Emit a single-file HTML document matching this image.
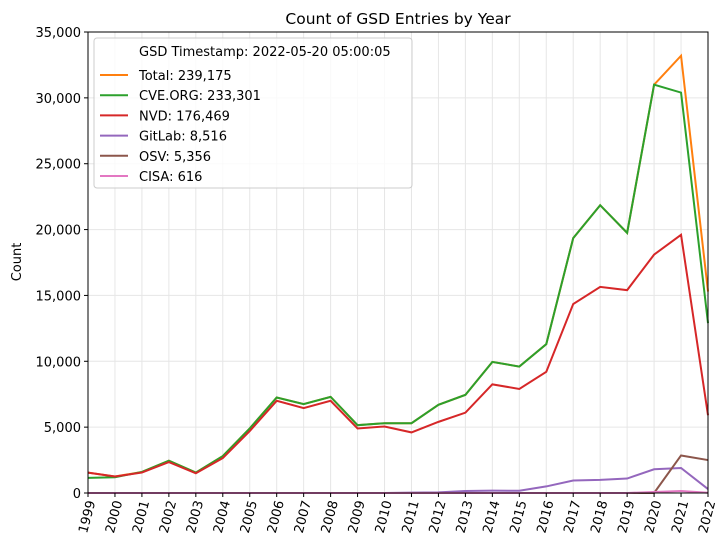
<!DOCTYPE html>
<html><head><meta charset="utf-8"><style>
body{margin:0;background:#fff;font-family:"DejaVu Sans","Liberation Sans",sans-serif;}
svg text{font-family:"DejaVu Sans","Liberation Sans",sans-serif;}
</style></head><body>
<svg id="chart" width="728" height="551" xmlns="http://www.w3.org/2000/svg">
<g id="grid"></g><g id="series"></g><g id="axes"></g><g id="legend"></g>
</svg>
<script>
const years=[1999,2000,2001,2002,2003,2004,2005,2006,2007,2008,2009,2010,2011,2012,2013,2014,2015,2016,2017,2018,2019,2020,2021,2022];
const totalVals=[1550,1250,1600,2450,1550,2800,4900,7250,6750,7300,5150,5300,5300,6700,7450,9950,9600,11300,19350,21850,19750,31000,33200,15300];
const cveVals=[1150,1200,1600,2450,1550,2800,4900,7250,6750,7300,5150,5300,5300,6700,7450,9950,9600,11300,19350,21850,19750,31000,30400,12900];
const nvdVals=[1550,1250,1550,2350,1500,2650,4700,7000,6450,7000,4900,5050,4600,5400,6100,8250,7900,9200,14350,15650,15400,18100,19600,5900];
const gitlabVals=[0,0,0,0,0,0,0,0,0,0,0,0,30,50,150,180,170,500,950,1000,1100,1800,1900,300];
const osvVals=[0,0,0,0,0,0,0,0,0,0,0,0,0,0,0,0,0,0,0,0,0,0,2850,2500];
const cisaVals=[0,0,0,0,0,0,0,0,0,0,0,0,0,0,0,0,0,0,0,0,0,80,150,20];
const yTicks=[0,5000,10000,15000,20000,25000,30000,35000];
const legendLabels=["Total: 239,175","CVE.ORG: 233,301","NVD: 176,469","GitLab: 8,516","OSV: 5,356","CISA: 616"];

const L=88,R=708,T=32,B=493;
const x=y=>L+(y-years[0])/(years[years.length-1]-years[0])*(R-L);
const yS=v=>B-v/35000*(B-T);
const NS="http://www.w3.org/2000/svg";
function mk(tag,attrs,parent){const e=document.createElementNS(NS,tag);for(const k in attrs)e.setAttribute(k,attrs[k]);parent.appendChild(e);return e;}
const svg=document.getElementById('chart');
const grid=document.getElementById('grid'),axes=document.getElementById('axes'),ser=document.getElementById('series'),leg=document.getElementById('legend');
years.forEach(yr=>{
  const l=mk('line',{x1:x(yr),x2:x(yr),y1:T,y2:B,stroke:'#e6e6e6','stroke-width':1},grid);
  
  
  const t=mk('line',{x1:x(yr),x2:x(yr),y1:B,y2:B+4,stroke:'#000'},axes);
  
  
  const tx=mk('text',{x:0,y:0,'font-size':13,'text-anchor':'end',transform:`translate(${x(yr)+4},${B+8}) rotate(-75)`,'dominant-baseline':'middle'},axes);
  tx.textContent=yr;
  
  
});
yTicks.forEach(v=>{
  const l=mk('line',{x1:L,x2:R,y1:yS(v),y2:yS(v),stroke:'#e6e6e6'},grid);
  
  
  const t=mk('line',{x1:L-4,x2:L,y1:yS(v),y2:yS(v),stroke:'#000'},axes);
  
  
  const tx=mk('text',{x:L-7,y:yS(v)+5,'font-size':13,'text-anchor':'end'},axes);
  tx.textContent=v.toLocaleString('en-US');
  
  
});
const frame=mk('rect',{x:L,y:T,width:R-L,height:B-T,fill:'none',stroke:'#000','stroke-width':1},axes);


const title=mk('text',{x:398,y:24,'font-size':15.5,'text-anchor':'middle'},axes);
title.textContent='Count of GSD Entries by Year';


const yt=mk('text',{x:0,y:0,'font-size':13,'text-anchor':'middle',transform:'translate(21,262) rotate(-90)'},axes);
yt.textContent='Count';



const seriesList=[[totalVals,'#ff7f0e','total-line'],[cveVals,'#2ca02c','cve-line'],[nvdVals,'#d62728','nvd-line'],[gitlabVals,'#9467bd','gitlab-line'],[osvVals,'#8c564b','osv-line'],[cisaVals,'#e377c2','cisa-line']];
seriesList.forEach(([vals,c,n])=>{
  const p=mk('polyline',{points:vals.map((v,i)=>x(years[i])+','+yS(v)).join(' '),fill:'none',stroke:c,'stroke-width':2},ser);
  
  
});
const box=mk('rect',{x:94,y:38,width:318,height:150,rx:3,fill:'#fff','fill-opacity':0.8,stroke:'#ccc'},leg);


const hdr=mk('text',{x:139,y:56,'font-size':13},leg);
hdr.textContent='GSD Timestamp: 2022-05-20 05:00:05';


legendLabels.forEach((lab,i)=>{
  const yy=75+i*20.2;
  const ln=mk('line',{x1:100,x2:128,y1:yy,y2:yy,stroke:seriesList[i][1],'stroke-width':2},leg);
  
  
  const t=mk('text',{x:139,y:yy+5,'font-size':13},leg);
  t.textContent=lab;
  
  
});
</script>
</body></html>
